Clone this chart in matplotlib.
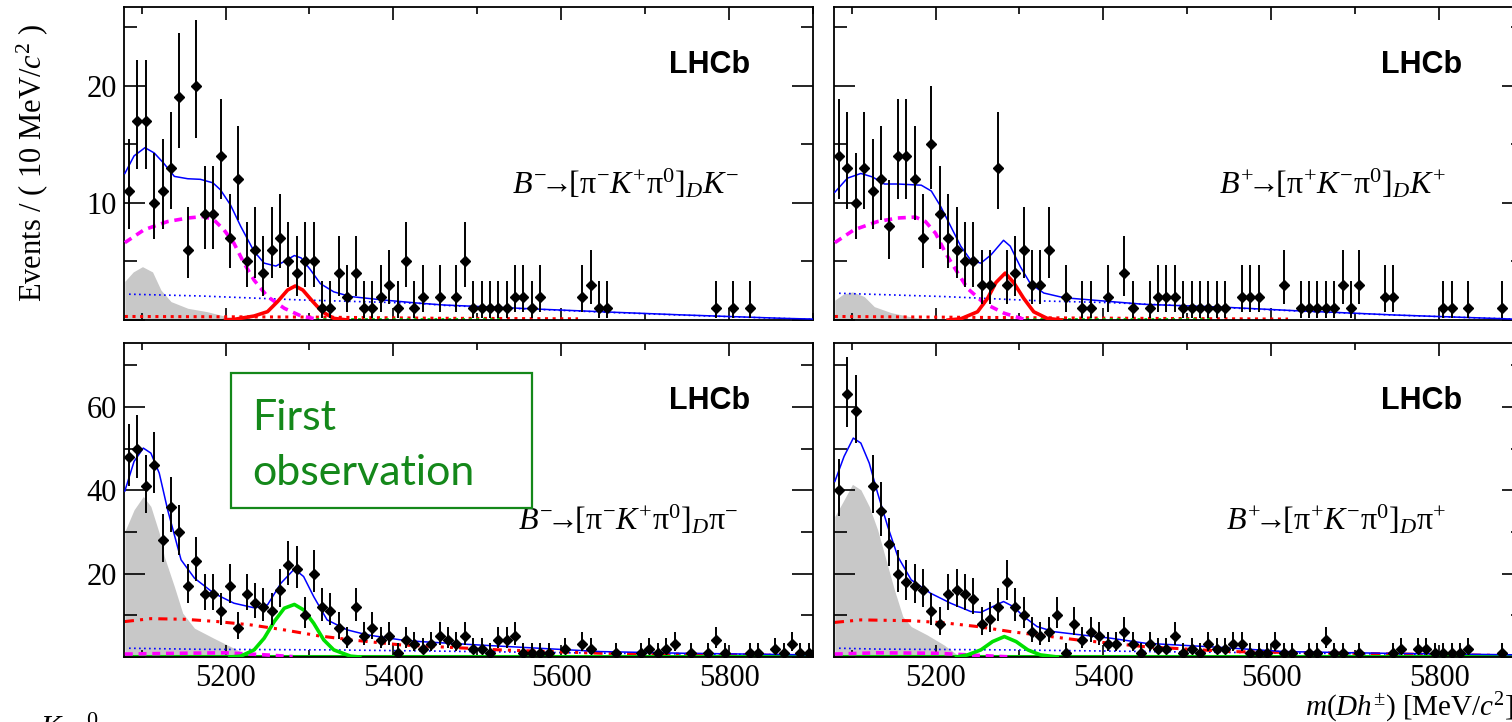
import numpy as np
import matplotlib
matplotlib.use("Agg")
import matplotlib.pyplot as plt
import matplotlib.ticker as mticker
from matplotlib.patches import Rectangle

plt.rcParams['font.family'] = ['Liberation Serif', 'DejaVu Serif']
plt.rcParams['mathtext.fontset'] = 'custom'
plt.rcParams['mathtext.rm'] = 'Liberation Serif'
plt.rcParams['mathtext.it'] = 'Liberation Serif:italic'
plt.rcParams['mathtext.bf'] = 'Liberation Serif:bold'
plt.rcParams['mathtext.fallback'] = 'stix'

# 10 MeV bins from 5080 to 5900
bin_edges = np.arange(5080, 5901, 10)
bin_centers = 0.5 * (bin_edges[:-1] + bin_edges[1:])

# event counts per bin
tl_counts = [11, 17, 17, 10, 11, 13, 19, 6, 20, 9, 9, 14, 7, 12, 5, 6, 4, 6, 7, 5,
             4, 5, 5, 1, 1, 4, 2, 4, 1, 1, 2, 3, 1, 5, 1, 2, 0, 2, 0, 2,
             5, 1, 1, 1, 1, 1, 2, 2, 1, 2, 0, 0, 0, 0, 2, 3, 1, 1, 0, 0,
             0, 0, 0, 0, 0, 0, 0, 0, 0, 0, 1, 0, 1, 0, 1, 0, 0, 0, 0, 0, 0, 0]
tr_counts = [14, 13, 10, 13, 11, 12, 8, 14, 14, 12, 7, 15, 9, 7, 6, 5, 5, 3, 3, 13,
             3, 4, 6, 3, 3, 6, 0, 2, 0, 1, 1, 0, 2, 0, 4, 1, 0, 1, 2, 2,
             2, 1, 1, 1, 1, 1, 1, 0, 2, 2, 2, 0, 0, 3, 0, 1, 1, 1, 1, 1,
             3, 1, 3, 0, 0, 2, 2, 0, 0, 0, 0, 0, 1, 1, 0, 1, 0, 0, 0, 1, 0, 0]
bl_counts = [48, 50, 41, 46, 28, 36, 30, 17, 23, 15, 15, 11, 17, 7, 15, 13, 12, 11, 16, 22,
             21, 10, 20, 12, 11, 7, 4, 12, 5, 7, 4, 5, 1, 4, 3, 2, 3, 5, 4, 3,
             5, 2, 2, 1, 4, 4, 5, 1, 1, 1, 1, 0, 2, 0, 3, 2, 0, 0, 1, 0,
             0, 1, 2, 1, 2, 3, 0, 1, 0, 1, 4, 1, 0, 0, 1, 1, 0, 2, 1, 3, 1, 1]
br_counts = [40, 63, 59, 0, 41, 35, 27, 20, 18, 17, 16, 11, 8, 15, 16, 15, 14, 8, 9, 12,
             18, 12, 10, 6, 5, 6, 10, 1, 8, 4, 6, 5, 3, 3, 6, 3, 1, 3, 2, 2,
             5, 1, 2, 1, 3, 2, 2, 3, 3, 1, 1, 1, 3, 1, 1, 0, 1, 1, 4, 1,
             1, 0, 1, 0, 0, 0, 1, 2, 0, 2, 2, 1, 1, 1, 1, 2, 0, 0, 0, 1, 0, 0]

# fit components, (mass, events)
tl_total = [(5080, 12.5), (5091, 14.0), (5104, 14.7), (5115, 14.25), (5126, 13.4), (5139, 12.25),
            (5155, 12.05), (5170, 12.0), (5185, 11.7), (5194, 11.1), (5206, 9.8), (5218, 8.0),
            (5234, 5.85), (5246, 4.85), (5260, 4.6), (5270, 5.0), (5282, 5.5), (5290, 5.3),
            (5301, 4.3), (5313, 3.1), (5329, 2.4), (5349, 2.0), (5389, 1.7), (5428, 1.45),
            (5460, 1.28), (5579, 0.91), (5663, 0.66), (5746, 0.43), (5865, 0.14), (5900, 0.08)]
tl_partreco = [(5080, 6.6), (5103, 7.7), (5131, 8.4), (5155, 8.7), (5174, 8.83), (5186, 8.55),
               (5198, 7.7), (5210, 6.55), (5222, 4.85), (5234, 3.4), (5250, 2.0), (5270, 1.0),
               (5290, 0.34), (5310, 0.06)]
tl_signal = [(5200, 0.0), (5210, 0.05), (5234, 0.34), (5250, 0.71), (5262, 1.57), (5274, 2.56),
             (5283, 2.9), (5292, 2.56), (5304, 1.57), (5315, 0.71), (5329, 0.14), (5345, 0.0)]
tl_lowmass = [(5080, 3.3), (5090, 4.1), (5101, 4.55), (5113, 4.1), (5123, 2.56), (5135, 1.57),
              (5155, 1.0), (5178, 0.71), (5202, 0.28), (5218, 0.05), (5225, 0.0)]
tl_comb = [(5085, 2.2), (5170, 2.05), (5290, 1.71), (5428, 1.43), (5460, 1.25), (5580, 0.88),
           (5660, 0.64), (5750, 0.4), (5900, 0.05)]
tl_crossfeed = [(5080, 0.3), (5300, 0.25), (5450, 0.15), (5620, 0.1)]

tr_total = [(5080, 10.9), (5095, 12.1), (5111, 12.5), (5125, 12.2), (5139, 11.6), (5155, 11.6),
            (5183, 11.5), (5195, 11.0), (5206, 9.7), (5218, 8.0), (5230, 6.3), (5242, 5.1),
            (5254, 4.85), (5266, 5.55), (5281, 6.8), (5289, 6.3), (5301, 4.55), (5313, 3.1),
            (5329, 2.3), (5353, 1.9), (5409, 1.57), (5448, 1.34), (5547, 1.08), (5627, 0.8),
            (5702, 0.57), (5746, 0.43), (5900, 0.05)]
tr_partreco = [(5080, 6.6), (5103, 7.7), (5131, 8.4), (5155, 8.7), (5176, 8.78), (5188, 8.4),
               (5200, 7.4), (5212, 5.7), (5224, 4.3), (5238, 2.7), (5258, 1.43), (5282, 0.57),
               (5306, 0.05)]
tr_signal = [(5215, 0.0), (5230, 0.1), (5250, 0.7), (5262, 1.85), (5272, 3.2), (5283, 4.0),
             (5293, 3.2), (5305, 1.85), (5317, 0.7), (5333, 0.14), (5350, 0.0)]
tr_lowmass = [(5080, 1.7), (5090, 2.2), (5101, 2.4), (5115, 2.0), (5127, 1.14), (5147, 0.63),
              (5170, 0.28), (5190, 0.05), (5200, 0.0)]
tr_comb = [(5085, 2.28), (5210, 2.0), (5329, 1.62), (5409, 1.48), (5547, 1.05), (5627, 0.78),
           (5746, 0.42), (5900, 0.05)]
tr_crossfeed = [(5080, 0.3), (5300, 0.2), (5500, 0.12), (5620, 0.08)]

bl_total = [(5080, 39.8), (5091, 46.9), (5102, 50.1), (5111, 48.9), (5121, 44.1), (5131, 35.3),
            (5147, 23.3), (5163, 18.9), (5186, 15.3), (5210, 12.9), (5234, 11.8), (5250, 12.5),
            (5266, 17.7), (5282, 21.1), (5293, 19.3), (5305, 14.5), (5321, 8.9), (5345, 6.5),
            (5369, 5.3), (5409, 4.1), (5432, 3.7), (5500, 2.9), (5647, 1.3), (5746, 0.9),
            (5900, 0.5)]
bl_lowmass = [(5080, 30.1), (5091, 35.3), (5102, 38.5), (5111, 36.1), (5121, 29.7), (5127, 24.1),
              (5139, 16.9), (5149, 10.5), (5163, 6.9), (5186, 4.5), (5210, 2.1), (5226, 0.5),
              (5235, 0.0)]
bl_crossfeed = [(5080, 8.5), (5111, 9.2), (5151, 9.05), (5190, 8.5), (5230, 7.7), (5270, 6.5),
                (5310, 5.1), (5350, 4.1), (5409, 2.9), (5528, 1.7), (5647, 0.9), (5900, 0.3)]
bl_signal = [(5205, 0.0), (5218, 0.2), (5234, 1.7), (5246, 4.5), (5258, 8.5), (5270, 11.7),
             (5282, 12.6), (5293, 11.3), (5305, 8.1), (5317, 4.1), (5329, 1.7), (5349, 0.2),
             (5360, 0.0)]
bl_comb = [(5085, 2.1), (5170, 1.85), (5329, 1.7), (5500, 1.3), (5700, 0.8), (5900, 0.5)]
bl_partreco = [(5080, 0.7), (5150, 0.9), (5200, 1.0), (5240, 0.6), (5280, 0.1)]

br_total = [(5080, 42.1), (5091, 48.1), (5102, 52.5), (5111, 51.3), (5121, 46.5), (5131, 39.3),
            (5143, 31.3), (5155, 24.1), (5171, 18.5), (5194, 15.3), (5218, 12.9), (5242, 10.9),
            (5254, 10.7), (5268, 12.07), (5281, 13.3), (5293, 12.07), (5305, 9.7), (5321, 7.3),
            (5341, 6.07), (5369, 5.4), (5409, 4.5), (5450, 3.3), (5540, 2.3), (5615, 1.3),
            (5734, 0.9), (5900, 0.5)]
br_lowmass = [(5080, 33.7), (5091, 37.7), (5101, 41.4), (5111, 40.1), (5121, 36.1), (5131, 30.5),
              (5141, 23.3), (5151, 16.1), (5161, 9.7), (5171, 7.3), (5190, 5.3), (5210, 2.9),
              (5226, 0.5), (5235, 0.0)]
br_crossfeed = [(5080, 8.3), (5111, 8.9), (5171, 8.7), (5210, 8.2), (5250, 7.3), (5290, 6.07),
                (5329, 5.1), (5369, 4.1), (5409, 3.3), (5448, 2.5), (5551, 1.3), (5900, 0.3)]
br_signal = [(5225, 0.0), (5238, 0.5), (5254, 1.7), (5268, 3.7), (5282, 4.9), (5296, 3.7),
             (5310, 1.7), (5325, 0.5), (5345, 0.0)]
br_comb = [(5085, 2.1), (5131, 1.9), (5290, 1.7), (5500, 1.2), (5700, 0.8), (5900, 0.4)]
br_partreco = [(5080, 0.7), (5130, 1.0), (5200, 0.9), (5250, 0.4), (5290, 0.0)]

decay_labels = [r"$B^{-}\!\!\!\rightarrow\!\![\mathrm{\pi}^{-}K^{+}\mathrm{\pi}^{\mathit{0}}]_{D}K^{-}$",
                r"$B^{+}\!\!\!\rightarrow\!\![\mathrm{\pi}^{+}K^{-}\mathrm{\pi}^{\mathit{0}}]_{D}K^{+}$",
                r"$B^{-}\!\!\!\rightarrow\!\![\mathrm{\pi}^{-}K^{+}\mathrm{\pi}^{\mathit{0}}]_{D}\mathrm{\pi}^{-}$",
                r"$B^{+}\!\!\!\rightarrow\!\![\mathrm{\pi}^{+}K^{-}\mathrm{\pi}^{\mathit{0}}]_{D}\mathrm{\pi}^{+}$"]


def xy(pts):
    a = np.array(pts, dtype=float)
    return a[:, 0], a[:, 1]


def draw_panel(ax, counts, total, lowmass, comb, crossfeed, signal, partreco, kaon):
    x, y = xy(lowmass)
    ax.fill_between(x, y, 0, color='#c8c8c8', lw=0, zorder=1)
    x, y = xy(comb)
    ax.plot(x, y, color='blue', lw=1.2, ls=(0, (1, 2)), zorder=2)
    x, y = xy(crossfeed)
    if kaon:
        ax.plot(x, y, color='red', lw=2.2, ls=(0, (1, 1.5)), zorder=2)
        ax.plot([5300, 5530], [0.1, 0.1], color='#00dd00', lw=2, ls=(0, (1, 1.5)), zorder=2)
    else:
        ax.plot(x, y, color='red', lw=2.2, ls=(0, (3, 2, 1, 2, 1, 2)), zorder=2)
        ax.plot([5080, 5900], [0.15, 0.15], color='#00cc00', lw=2.2, zorder=2)
    x, y = xy(partreco)
    ax.plot(x, y, color='magenta', lw=2.6, ls=(0, (2.2, 1.6)), zorder=3)
    x, y = xy(signal)
    ax.plot(x, y, color='red' if kaon else '#00e000', lw=2.6, zorder=3)
    x, y = xy(total)
    ax.plot(x, y, color='blue', lw=1.1, zorder=4)

    n = np.array(counts, dtype=float)
    keep = n > 0
    nk = n[keep]
    err_lo = np.sqrt(nk - 0.25)
    err_hi = np.sqrt(nk + 0.75) + 1
    ax.errorbar(bin_centers[keep], nk, yerr=[err_lo, err_hi], xerr=3.5, fmt='D', ms=5,
                color='black', mec='black', elinewidth=1.4, capsize=0, zorder=5)


def style_axes(ax, top_row, left_col):
    ax.set_xlim(5079, 5900)
    if top_row:
        ax.set_ylim(0, 26.7)
        ax.yaxis.set_major_locator(mticker.MultipleLocator(10))
        ax.yaxis.set_minor_locator(mticker.MultipleLocator(5))
    else:
        ax.set_ylim(0, 75.3)
        ax.yaxis.set_major_locator(mticker.MultipleLocator(20))
        ax.yaxis.set_minor_locator(mticker.MultipleLocator(10))
    ax.xaxis.set_major_locator(mticker.MultipleLocator(200))
    ax.xaxis.set_minor_locator(mticker.MultipleLocator(100))
    ax.tick_params(which='both', direction='in', top=True, right=True, width=1.2, labelsize=22)
    ax.tick_params(axis='y', which='major', length=15)
    ax.tick_params(axis='y', which='minor', length=9)
    ax.tick_params(axis='x', which='major', length=9)
    ax.tick_params(axis='x', which='minor', length=5)
    ax.tick_params(axis='y', pad=5)
    ax.tick_params(axis='x', pad=5)
    ax.yaxis.set_major_formatter(mticker.FuncFormatter(lambda v, p: '' if v == 0 else f'{v:.0f}'))
    if top_row:
        ax.tick_params(axis='x', labelbottom=False)
    if not left_col:
        ax.tick_params(axis='y', labelleft=False)
    for s in ax.spines.values():
        s.set_linewidth(1.3)


fig = plt.figure(figsize=(15.12, 7.22), dpi=100)
W, H = 1512.0, 722.0
w_ax, h_top, h_bot = 689 / W, 313 / H, 314 / H
ax_tl = fig.add_axes([124 / W, 1 - 320 / H, w_ax, h_top])
ax_tr = fig.add_axes([834 / W, 1 - 320 / H, w_ax, h_top])
ax_bl = fig.add_axes([124 / W, 1 - 657 / H, w_ax, h_bot])
ax_br = fig.add_axes([834 / W, 1 - 657 / H, w_ax, h_bot])

draw_panel(ax_tl, tl_counts, tl_total, tl_lowmass, tl_comb, tl_crossfeed, tl_signal, tl_partreco, True)
draw_panel(ax_tr, tr_counts, tr_total, tr_lowmass, tr_comb, tr_crossfeed, tr_signal, tr_partreco, True)
draw_panel(ax_bl, bl_counts, bl_total, bl_lowmass, bl_comb, bl_crossfeed, bl_signal, bl_partreco, False)
draw_panel(ax_br, br_counts, br_total, br_lowmass, br_comb, br_crossfeed, br_signal, br_partreco, False)

style_axes(ax_tl, True, True)
style_axes(ax_tr, True, False)
style_axes(ax_bl, False, True)
style_axes(ax_br, False, False)

for ax, lx, dx, lab in [(ax_tl, 0.8505, 0.7286, decay_labels[0]),
                        (ax_tr, 0.853, 0.724, decay_labels[1]),
                        (ax_bl, 0.8505, 0.732, decay_labels[2]),
                        (ax_br, 0.853, 0.729, decay_labels[3])]:
    ax.text(lx, 0.815, 'LHCb', transform=ax.transAxes, ha='center', va='center',
            fontsize=22, fontweight='bold', family='Liberation Sans', zorder=6)
    ax.text(dx, 0.405, lab, transform=ax.transAxes, ha='center', va='baseline',
            fontsize=23, zorder=6)

# "First observation" box
green = '#14881a'
ax_bl.add_patch(Rectangle((0.1553, 0.4745), 0.592 - 0.1553, 0.9045 - 0.4745,
                          transform=ax_bl.transAxes, fill=True, facecolor='white',
                          edgecolor=green, lw=1.6, zorder=6))
ax_bl.text(0.1858, 0.723, 'First', transform=ax_bl.transAxes, ha='left', va='baseline',
           color=green, fontsize=31, family='Lato', zorder=7)
ax_bl.text(0.1858, 0.548, 'observation', transform=ax_bl.transAxes, ha='left', va='baseline',
           color=green, fontsize=31, family='Lato', zorder=7)

fig.text(32 / W, 1 - 163 / H, r"Events / ( 10 MeV/$c^{2}$ )", rotation=90,
         ha='center', va='center', fontsize=22)
fig.text(1514 / W, 1 - 716 / H, r"$m(Dh^{\pm})$ [MeV/$c^{2}$]", ha='right', va='baseline',
         fontsize=21)
# fragments of a label cut by the bottom edge
fig.text(40 / W, 1 - 737 / H, r"$K$", ha='left', va='baseline', fontsize=22)
fig.text(86 / W, 1 - 726 / H, r"$0$", ha='left', va='baseline', fontsize=16)

fig.savefig('out.png', dpi=100)
